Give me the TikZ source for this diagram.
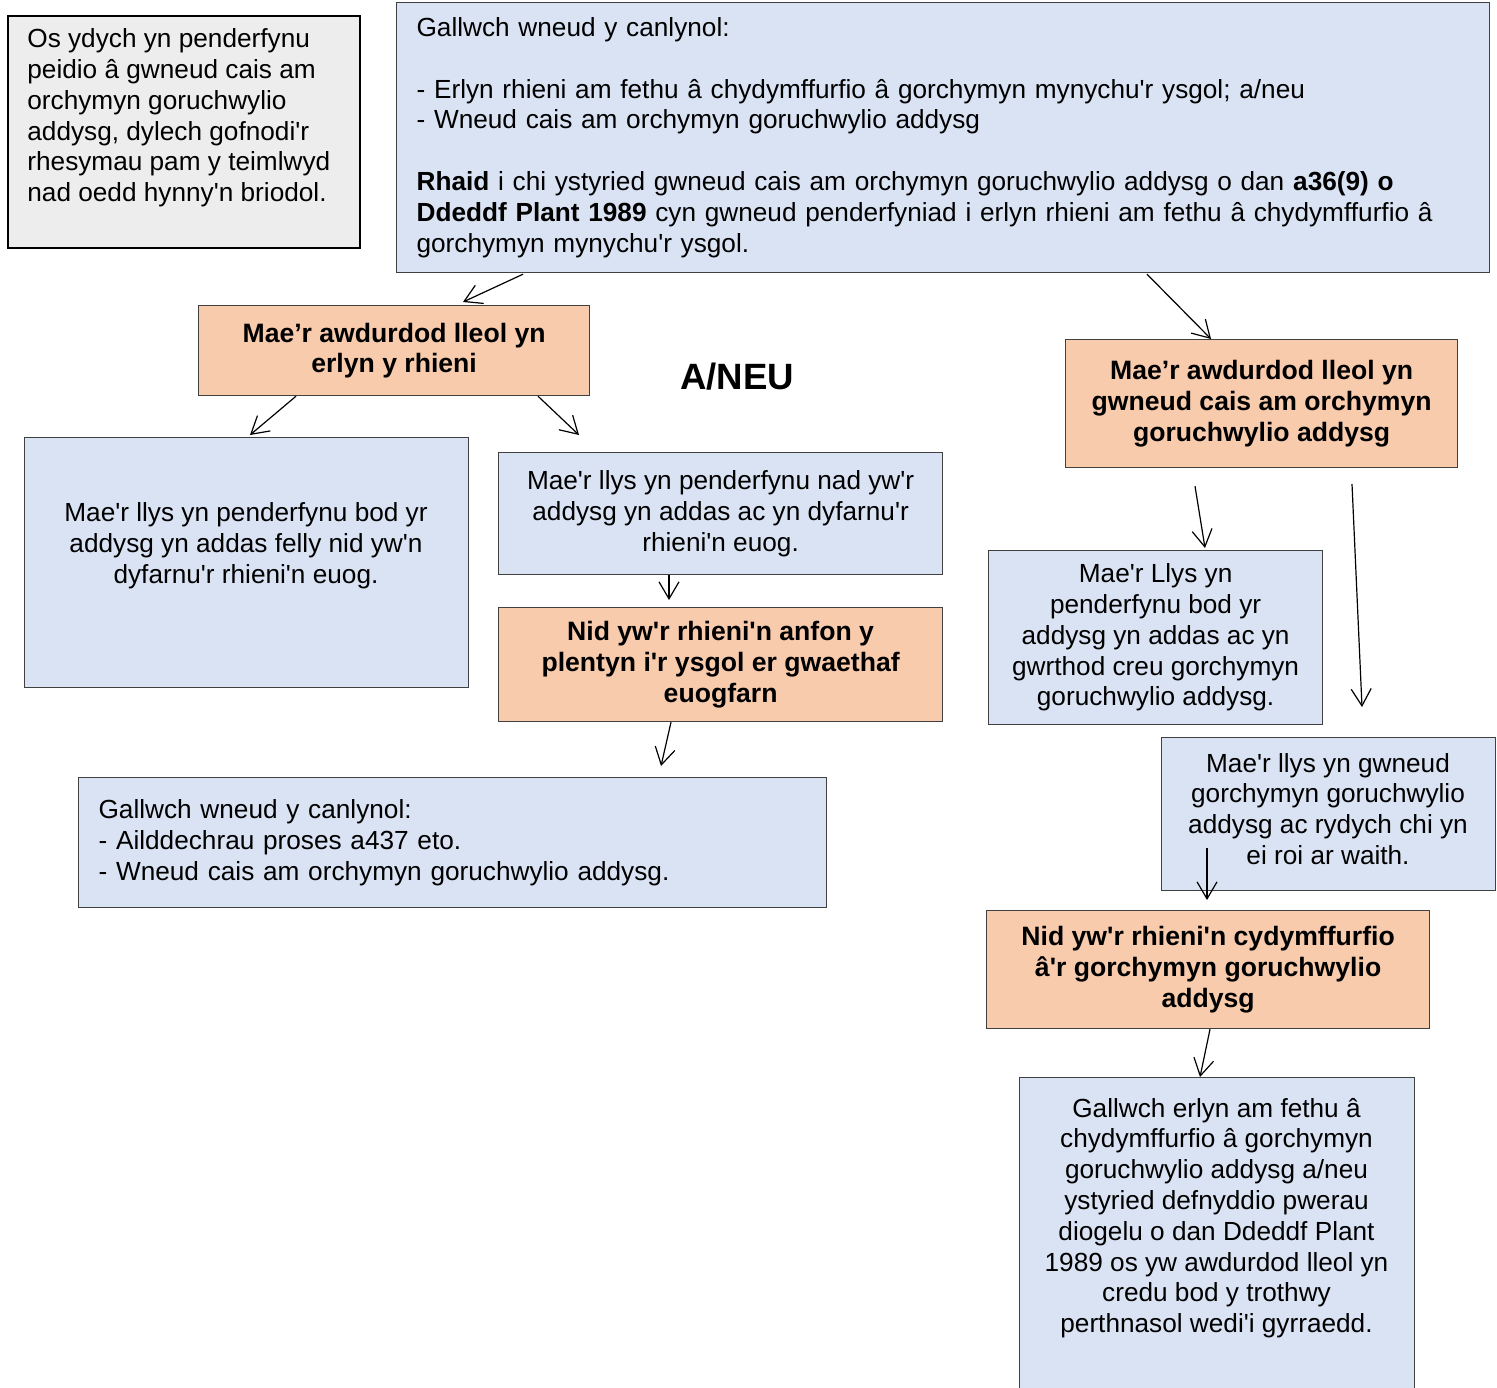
\documentclass[tikz,border=0pt]{standalone}
\usepackage{fontspec}
\setmainfont{Liberation Sans}
\usepackage{tikz}
\usetikzlibrary{arrows.meta,calc,positioning}

\definecolor{boxblue}{HTML}{DAE3F3}
\definecolor{boxpeach}{HTML}{F8CBAD}
\definecolor{boxgrey}{HTML}{EDEDED}

% straight apostrophe
\newcommand{\ap}{\textquotesingle}

\begin{document}
\begin{tikzpicture}
		[
			x=0.5pt, y=-0.5pt,
			font=\fontsize{13.1pt}{15.4pt}\selectfont,
			box/.style={draw=black!75, line width=0.6pt, anchor=north west, inner xsep=10pt, inner ysep=0pt},
			bluebox/.style={box, fill=boxblue, align=center},
			peachbox/.style={box, fill=boxpeach, align=center, font=\fontsize{13.3pt}{15.4pt}\selectfont\bfseries},
			greybox/.style={box, fill=boxgrey, draw=black, line width=1pt},
			txt/.style={align=center, inner sep=0pt},
			heading/.style={draw=none, fill=none, font=\fontsize{18.3pt}{22pt}\selectfont\bfseries},
			arrow/.style={-{Straight Barb[length=8.5pt,width=10pt]}, line width=0.6pt}
		]

		\clip (0,0) rectangle (1497,1387);
		\useasboundingbox (0,0) rectangle (1497,1387);

		% top boxes
		\node[greybox, minimum width=176pt, minimum height=116pt] (a) at (   7,   15 ) {};
		\node[txt, align=left, anchor=west] (atext) at (  27,  118 ) {Os ydych yn penderfynu\\ peidio â gwneud cais am\\ orchymyn goruchwylio\\ addysg, dylech gofnodi\ap r\\ rhesymau pam y teimlwyd\\ nad oedd hynny\ap n briodol.};
		\node[bluebox, align=left, minimum width=546.5pt, minimum height=135pt, text width=526.5pt] (b) at ( 396,    2 ) {Gallwch wneud y canlynol:\\[15.4pt]
			- Erlyn rhieni am fethu â chydymffurfio â gorchymyn mynychu\ap r ysgol; a/neu\\
			- Wneud cais am orchymyn goruchwylio addysg\\[15.4pt]
			\textbf{Rhaid} i chi ystyried gwneud cais am orchymyn goruchwylio addysg o dan \textbf{a36(9) o}\\
			\textbf{Ddeddf Plant 1989} cyn gwneud penderfyniad i erlyn rhieni am fethu â chydymffurfio â\\
			gorchymyn mynychu\ap r ysgol.};

		% prosecution branch
		\node[peachbox, minimum width=195.5pt, minimum height=45pt] (c) at ( 198,  305 ) {Mae’r awdurdod lleol yn\\ erlyn y rhieni};
		\node[bluebox, minimum width=222pt, minimum height=125pt] (e) at (  24,  437 ) {};
		\node[txt] (etext) at ( 246,  546 ) {Mae\ap r llys yn penderfynu bod yr\\ addysg yn addas felly nid yw\ap n\\ dyfarnu\ap r rhieni\ap n euog.};
		\node[bluebox, minimum width=222pt, minimum height=61pt] (f) at ( 498,  452 ) {Mae\ap r llys yn penderfynu nad yw\ap r\\ addysg yn addas ac yn dyfarnu\ap r\\ rhieni\ap n euog.};
		\node[peachbox, minimum width=222pt, minimum height=57pt] (g) at ( 498,  607 ) {Nid yw\ap r rhieni\ap n anfon y\\ plentyn i\ap r ysgol er gwaethaf\\ euogfarn};
		\node[bluebox, align=left, minimum width=374pt, minimum height=65pt, text width=354pt] (h) at (  78,  777 ) {Gallwch wneud y canlynol:\\ - Ailddechrau proses a437 eto.\\ - Wneud cais am orchymyn goruchwylio addysg.};

		\node[heading] (aneu) at ( 737,  377 ) {A/NEU};

		% supervision order branch
		\node[peachbox, minimum width=196pt, minimum height=64pt] (d) at (1065,  339 ) {Mae’r awdurdod lleol yn\\ gwneud cais am orchymyn\\ goruchwylio addysg};
		\node[bluebox, minimum width=167pt, minimum height=87pt] (i) at ( 988,  550 ) {Mae\ap r Llys yn\\ penderfynu bod yr\\ addysg yn addas ac yn\\ gwrthod creu gorchymyn\\ goruchwylio addysg.};
		\node[bluebox, minimum width=167pt, minimum height=76.5pt] (j) at (1161,  737 ) {};
		\node[txt] (jtext) at (1328,  809 ) {Mae\ap r llys yn gwneud\\ gorchymyn goruchwylio\\ addysg ac rydych chi yn\\ ei roi ar waith.};
		\node[peachbox, minimum width=221.5pt, minimum height=59pt] (k) at ( 986,  910 ) {Nid yw\ap r rhieni\ap n cydymffurfio\\ â\ap r gorchymyn goruchwylio\\ addysg};
		\node[bluebox, minimum width=197.5pt, minimum height=161.5pt] (l) at (1019, 1077 ) {};
		\node[txt] (ltext) at (1216.5, 1218 ) {Gallwch erlyn am fethu â\\ chydymffurfio â gorchymyn\\ goruchwylio addysg a/neu\\ ystyried defnyddio pwerau\\ diogelu o dan Ddeddf Plant\\ 1989 os yw awdurdod lleol yn\\ credu bod y trothwy\\ perthnasol wedi\ap i gyrraedd.};

		% arrows
		\draw[arrow] ($(b.south west)+(127,1)$) -- ($(c.north west)+(265,-3)$);
		\draw[arrow] ($(b.south west)+(751,1)$) -- ($(d.north west)+(146,0)$);
		\draw[arrow] ($(c.south west)+(98,0)$) -- ($(e.north west)+(226,-2)$);
		\draw[arrow] ($(c.south west)+(340,0)$) -- ($(f.north west)+(81,-17)$);
		\draw[arrow] ($(f.south west)+(171,0)$) -- ($(g.north west)+(171,-7)$);
		\draw[arrow] ($(g.south west)+(173,0)$) -- ($(h.north west)+(583,-11)$);
		\draw[arrow] ($(d.south west)+(130,18)$) -- ($(i.north west)+(217,-2)$);
		\draw[arrow] ($(d.south west)+(287,16)$) -- ($(j.north west)+(201,-30)$);
		\draw[arrow] ($(j.south west)+(46,-43)$) -- ($(k.north west)+(221,-10)$);
		\draw[arrow] ($(k.south west)+(224,0)$) -- ($(l.north west)+(181,0)$);

	\end{tikzpicture}
\end{document}
